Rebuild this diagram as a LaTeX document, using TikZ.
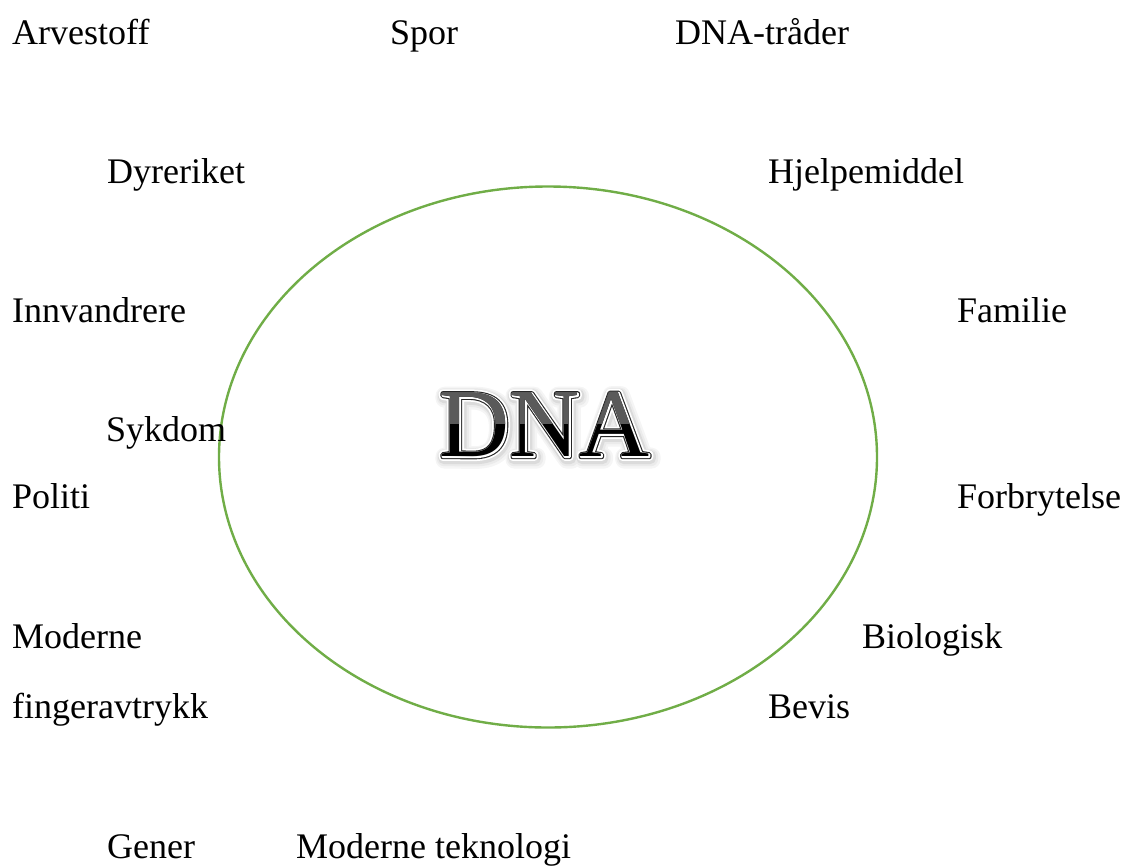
\documentclass[tikz,border=0pt]{standalone}
\usepackage{fontspec}
\setmainfont{Liberation Serif}
\definecolor{ringgreen}{HTML}{70AD47}
\definecolor{dnagrey}{HTML}{5A5A5A}
% emboldened copies of the title face, used as outline layers
\newfontfamily\dnahaloA[FakeBold=19]{Liberation Serif}
\newfontfamily\dnahaloB[FakeBold=15]{Liberation Serif}
\newfontfamily\dnahaloC[FakeBold=11.5]{Liberation Serif}
\newfontfamily\dnaband[FakeBold=8.2]{Liberation Serif}
\newfontfamily\dnaedge[FakeBold=4.6]{Liberation Serif}
\newfontfamily\dnainner[FakeBold=2.3]{Liberation Serif}
% round joins for the outline layers
\newcommand\roundjoin{\special{pdf:code 1 j}}
\begin{document}
\begin{tikzpicture}[x=1pt,y=-1pt,
  lbl/.style={anchor=base west,inner sep=0pt,font=\fontsize{36}{40}\selectfont},
  dnatext/.style={anchor=center,inner sep=0pt,font=\fontsize{97}{97}\selectfont}]
\useasboundingbox (0,0) rectangle (1124,865);

% central ring
\draw[ringgreen,line width=2.4pt] (548,457) ellipse [x radius=329,y radius=270.5];

% title word: soft shadow, white band, dark outline, two-tone fill
\node[dnatext,text=black!4] (haloA) at (547,427.5) {\roundjoin\dnahaloA DNA};
\node[dnatext,text=black!8] (haloB) at (546.5,427) {\roundjoin\dnahaloB DNA};
\node[dnatext,text=black!14] (haloC) at (546,426.5) {\roundjoin\dnahaloC DNA};
\node[dnatext,text=white] (band) at (545,425) {\roundjoin\dnaband DNA};
\node[dnatext,text=black!85] (edge) at (545,425) {\roundjoin\dnaedge DNA};
\node[dnatext,text=white] (inner) at (545,425) {\roundjoin\dnainner DNA};
\node[dnatext,text=black] (dna) at (545,425) {DNA};
\begin{scope}
  \clip (400,370) rectangle (700,423);
  \node[dnatext,text=dnagrey] (dnatop) at (545,425) {DNA};
\end{scope}

% surrounding words
\node[lbl] (arvestoff) at (12,44) {Arvestoff};
\node[lbl] (spor) at (390,44) {Spor};
\node[lbl] (trader) at (675,44) {DNA-tråder};
\node[lbl] (dyreriket) at (107,183) {Dyreriket};
\node[lbl] (hjelpemiddel) at (768,183) {Hjelpemiddel};
\node[lbl] (innvandrere) at (12,322) {Innvandrere};
\node[lbl] (familie) at (957,322) {Familie};
\node[lbl] (sykdom) at (106,441) {Sykdom};
\node[lbl] (politi) at (12,508) {Politi};
\node[lbl] (forbrytelse) at (957,508) {Forbrytelse};
\node[lbl] (moderne) at (12,648) {Moderne};
\node[lbl] (biologisk) at (862,648) {Biologisk};
\node[lbl] (fingeravtrykk) at (12,718) {fingeravtrykk};
\node[lbl] (bevis) at (768,718) {Bevis};
\node[lbl] (gener) at (107,858) {Gener};
\node[lbl] (teknologi) at (296,858) {Moderne teknologi};
\end{tikzpicture}
\end{document}
